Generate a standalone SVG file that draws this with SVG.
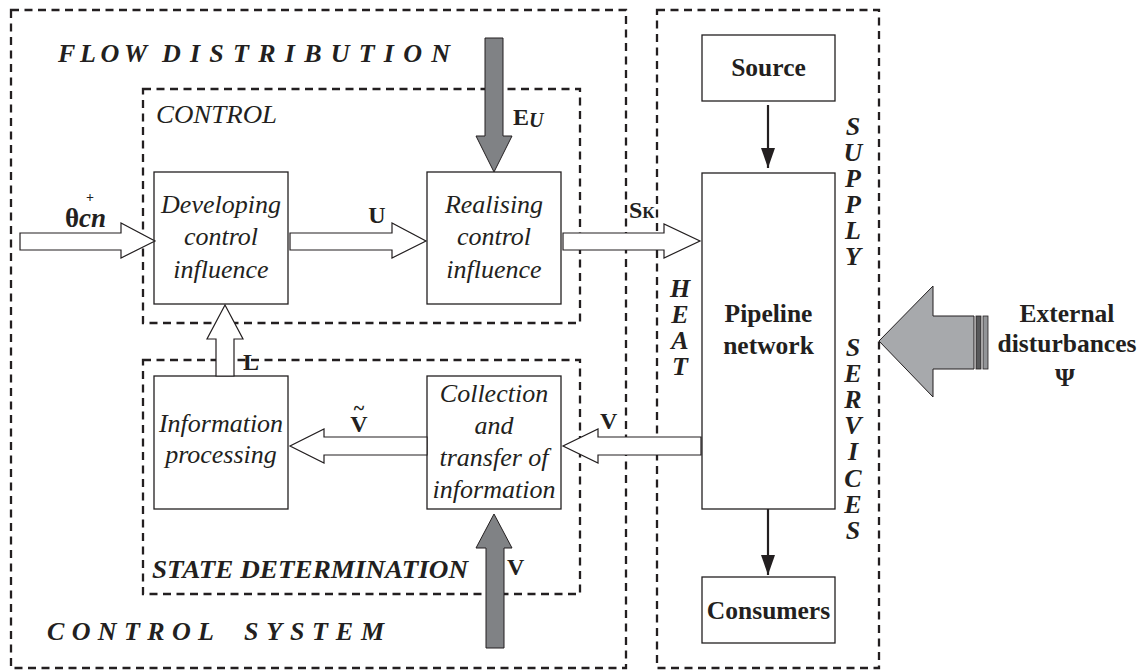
<svg xmlns="http://www.w3.org/2000/svg" width="1142" height="670" viewBox="0 0 1142 670" font-family="'Liberation Serif','Times New Roman',serif">
<style>
text{font-family:"Liberation Serif","Times New Roman",serif;fill:#231f20}
.dash{fill:none;stroke:#231f20;stroke-width:2.3;stroke-dasharray:8 5.5}
.box{fill:#fff;stroke:#231f20;stroke-width:1.3}
.it{font-style:italic;font-size:26px;text-anchor:middle}
.bd{font-weight:bold;font-size:25.5px;text-anchor:middle}
.bi{font-weight:bold;font-style:italic;font-size:26px}
.vl{font-weight:bold;font-style:italic;font-size:26px;text-anchor:middle}
.lbl{font-weight:bold;font-size:24px}
.hol{fill:#fff;stroke:#231f20;stroke-width:1.2}
.gry{fill:#808285;stroke:#231f20;stroke-width:1}
.thin{stroke:#231f20;stroke-width:2.2;fill:none}
</style>
<defs>
<marker id="ah" markerWidth="20" markerHeight="14" refX="20" refY="7" orient="auto" markerUnits="userSpaceOnUse" viewBox="0 0 20 14">
<path d="M0,0 L20,7 L0,14 Z" fill="#231f20"/>
</marker>
</defs>
<rect width="1142" height="670" fill="#fff"/>

<g id="frames">
<rect class="dash" x="11" y="10" width="615" height="658"/>
<rect class="dash" x="657" y="10" width="222" height="658"/>
<rect class="dash" x="143" y="89" width="437" height="234"/>
<rect class="dash" x="143" y="360" width="437" height="234"/>
</g>

<g id="titles">
<text class="bi" x="58" y="62" textLength="89" lengthAdjust="spacing">FLOW</text>
<text class="bi" x="162" y="62" textLength="288" lengthAdjust="spacing">DISTRIBUTION</text>
<text x="156" y="123" font-style="italic" font-size="26" textLength="121" lengthAdjust="spacingAndGlyphs">CONTROL</text>
<text class="bi" x="152" y="578" textLength="316" lengthAdjust="spacingAndGlyphs">STATE DETERMINATION</text>
<text class="bi" x="47" y="640" textLength="167" lengthAdjust="spacing">CONTROL</text>
<text class="bi" x="244" y="640" textLength="140" lengthAdjust="spacing">SYSTEM</text>
<g id="heat-label">
<text class="vl" x="680" y="297">H</text>
<text class="vl" x="680" y="323">E</text>
<text class="vl" x="680" y="349">A</text>
<text class="vl" x="680" y="375">T</text>
</g>
<g id="supply-label">
<text class="vl" x="853" y="135">S</text>
<text class="vl" x="853" y="161">U</text>
<text class="vl" x="853" y="187">P</text>
<text class="vl" x="853" y="213">P</text>
<text class="vl" x="853" y="239">L</text>
<text class="vl" x="853" y="265">Y</text>
</g>
<g id="services-label">
<text class="vl" x="853" y="356">S</text>
<text class="vl" x="853" y="382">E</text>
<text class="vl" x="853" y="408">R</text>
<text class="vl" x="853" y="434">V</text>
<text class="vl" x="853" y="460">I</text>
<text class="vl" x="853" y="487">C</text>
<text class="vl" x="853" y="513">E</text>
<text class="vl" x="853" y="539">S</text>
</g>
</g>

<g id="developing">
<rect class="box" x="154" y="172" width="134" height="132"/>
<text class="it" x="221" y="213">Developing</text>
<text class="it" x="221" y="245">control</text>
<text class="it" x="221" y="278">influence</text>
</g>
<g id="realising">
<rect class="box" x="427" y="172" width="134" height="132"/>
<text class="it" x="494" y="213">Realising</text>
<text class="it" x="494" y="245">control</text>
<text class="it" x="494" y="278">influence</text>
</g>
<g id="information-processing">
<rect class="box" x="154" y="376" width="134" height="133"/>
<text class="it" x="221" y="432">Information</text>
<text class="it" x="221" y="463">processing</text>
</g>
<g id="collection">
<rect class="box" x="427" y="376" width="134" height="133"/>
<text class="it" x="494" y="402">Collection</text>
<text class="it" x="494" y="434">and</text>
<text class="it" x="494" y="466">transfer of</text>
<text class="it" x="494" y="498">information</text>
</g>
<g id="source">
<rect class="box" x="702" y="35" width="133" height="66"/>
<text class="bd" x="768.5" y="76">Source</text>
</g>
<g id="pipeline">
<rect class="box" x="702" y="173" width="133" height="336"/>
<text class="bd" x="768.5" y="322">Pipeline</text>
<text class="bd" x="768.5" y="354">network</text>
</g>
<g id="consumers">
<rect class="box" x="702" y="577" width="133" height="66"/>
<text class="bd" x="768.5" y="619">Consumers</text>
</g>
<g id="external">
<text class="bd" x="1067" y="322">External</text>
<text class="bd" x="1067" y="352">disturbances</text>
<text class="bd" x="1065" y="386">Ψ</text>
</g>

<g id="connectors">
<polygon class="hol" points="20,233 121,233 121,223 155,241 121,258 121,250 20,250"/>
<polygon class="hol" points="290,233 392,233 392,223 426,241 392,258 392,250 290,250"/>
<polygon class="hol" points="563,233 664,233 664,224 700,241 664,258 664,250 563,250"/>
<polygon class="hol" points="701,437 598,437 598,429 563,446 598,463 598,455 701,455"/>
<polygon class="hol" points="427,437 324,437 324,429 290,446 324,463 324,455 427,455"/>
<polygon class="hol" points="216,376 216,339 207,339 225,305 243,339 234,339 234,376"/>
<polygon class="gry" points="485,38 503,38 503,136 512,136 494,172 476,136 485,136"/>
<polygon class="gry" points="486,648 504,648 504,548 512,548 494,514 476,548 486,548"/>
<line class="thin" x1="768" y1="105" x2="768" y2="168" marker-end="url(#ah)"/>
<line class="thin" x1="768" y1="509" x2="768" y2="575" marker-end="url(#ah)"/>
<polygon fill="#a7a9ac" stroke="#231f20" stroke-width="1" points="879,341 933,286 933,316 974,316 974,369 933,369 933,397"/>
<rect x="976" y="316" width="5" height="53" fill="#58595b" stroke="#231f20" stroke-width="0.8"/>
<rect x="983" y="316" width="5" height="53" fill="#939598" stroke="#231f20" stroke-width="0.8"/>
</g>

<g id="labels">
<text x="65" y="227" font-weight="bold" font-size="27">θ<tspan font-style="italic" font-size="27">cn</tspan></text>
<text x="86" y="202" font-size="14" font-weight="bold">+</text>
<text class="lbl" x="377" y="223" text-anchor="middle">U</text>
<text class="lbl" x="513" y="125">E<tspan font-style="italic" font-size="20" dy="2">U</tspan></text>
<text class="lbl" x="629" y="218">S<tspan font-size="17">К</tspan></text>
<text class="lbl" x="243" y="370">L</text>
<text class="lbl" x="359" y="432" text-anchor="middle">V</text>
<text x="359" y="415" font-size="20" font-weight="bold" text-anchor="middle">~</text>
<text class="lbl" x="600" y="429">V</text>
<text class="lbl" x="507" y="575">V</text>
</g>
</svg>
